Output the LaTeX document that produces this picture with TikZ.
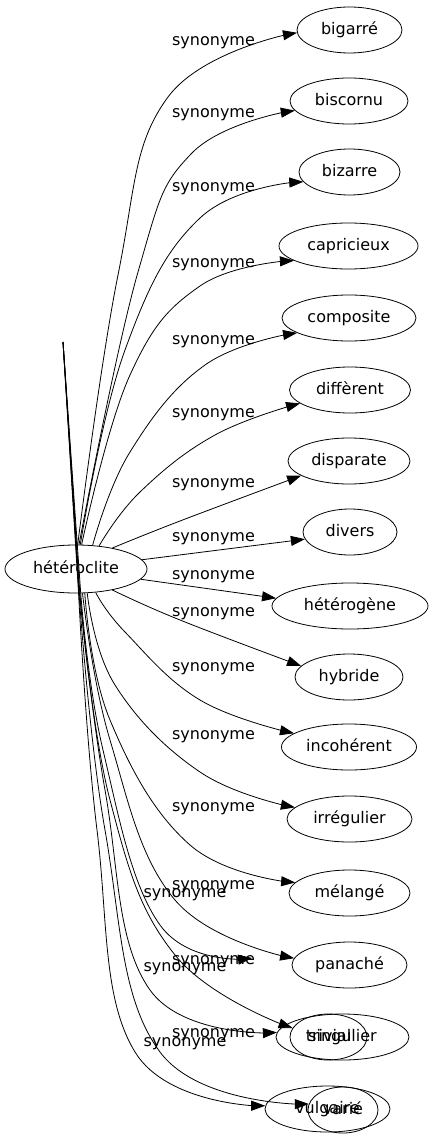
\documentclass[tikz,border=0pt]{standalone}
\usepackage{fontspec}
\setmainfont{DejaVu Sans}
\usetikzlibrary{shapes.geometric,arrows.meta}
\begin{document}
\begin{tikzpicture}[x=1pt,y=-1pt,font=\fontsize{16}{19}\selectfont,
  nd/.style={draw, ellipse, inner sep=0pt, minimum height=46pt, text height=12pt, text depth=3.7pt, line width=0.8pt},
  lbl/.style={anchor=base, inner sep=0pt},
  conn/.style={line width=0.8pt, -{Triangle[length=14pt,width=10pt]}},
  sm/.style={smooth, tension=0.7}]
\useasboundingbox (0,0) rectangle (433,1139);
% nodes
\node[nd, minimum width=142pt, minimum height=48pt] (h) at (76,569) {hétéroclite};
\node[nd, minimum width=105pt] (n1) at (349.5,30) {bigarré};
\node[nd, minimum width=118pt] (n2) at (349,101) {biscornu};
\node[nd, minimum width=101pt] (n3) at (349.5,172) {bizarre};
\node[nd, minimum width=139pt] (n4) at (348.5,246) {capricieux};
\node[nd, minimum width=134pt] (n5) at (349,318) {composite};
\node[nd, minimum width=121pt] (n6) at (350,390) {diffèrent};
\node[nd, minimum width=122pt] (n7) at (349,461) {disparate};
\node[nd, minimum width=94pt] (n8) at (350,532) {divers};
\node[nd, minimum width=156pt] (n9) at (350,606) {hétérogène};
\node[nd, minimum width=108pt] (n10) at (349,677) {hybride};
\node[nd, minimum width=135pt] (n11) at (349,747) {incohérent};
\node[nd, minimum width=125pt] (n12) at (349.5,819) {irrégulier};
\node[nd, minimum width=121pt] (n13) at (349.5,893) {mélangé};
\node[nd, minimum width=115pt] (n14) at (349.5,965) {panaché};
\node[nd, minimum width=133pt] (n15) at (342.5,1037) {singulier};
\node[nd, minimum width=77pt] (n16) at (328.5,1037) {trivial};
\node[nd, minimum width=125pt] (n17) at (327.5,1109) {vulgaire};
\node[nd, minimum width=70pt] (n18) at (343,1110) {varié};
\coordinate (g) at (63,342);
\coordinate (ghost) at (252,958);
% edges to the upper nodes
\draw[conn] plot[sm] coordinates {(h.86) (118,275) (168,97) (n1.183)};
\draw[conn] plot[sm] coordinates {(h.83) (138,272) (192,153) (n2.190)};
\draw[conn] plot[sm] coordinates {(h.80) (125,350) (200,218) (n3.192)};
\draw[conn] plot[sm] coordinates {(h.77) (130,375) (200,286) (n4.195)};
\draw[conn] plot[sm] coordinates {(h.55) (130,452) (205,365) (n5.196)};
\draw[conn] plot[sm] coordinates {(h.45) (140,492) (215,435) (n6.195)};
\draw[conn] plot[sm] coordinates {(h.30) (180,521) (n7.197)};
\draw[conn] (h.8) -- (n8.189);
\draw[conn] (h.351) -- (n9.174);
% edges to the lower nodes
\draw[conn] plot[sm] coordinates {(h.330) (180,620) (n10.167)};
\draw[conn] plot[sm] coordinates {(h.310) (125,632) (200,700) (n11.166)};
\draw[conn] plot[sm] coordinates {(h.295) (115,685) (200,772) (n12.168)};
\draw[conn] plot[sm] coordinates {(h.290) (110,720) (190,845) (n13.169)};
\draw[conn] plot[sm] coordinates {(h.285) (110,740) (175,900) (n14.173)};
% broken edges starting from the free end above
\draw[conn] (g) -- plot[sm] coordinates {(h.281) (103,750) (160,925) (ghost)};
\draw[conn] (g) -- plot[sm] coordinates {(h.278) (105,790) (150,990) (n15.176)};
\draw[conn] (g) -- plot[sm] coordinates {(h.279) (110,800) (175,955) (n16.166)};
\draw[conn] (g) -- plot[sm] coordinates {(h.276) (97,830) (135,1052) (n17.177)};
\draw[conn] (g) -- plot[sm] coordinates {(h.277) (105,830) (160,1052) (n18.170)};
% labels
\foreach \yy/\nm in {41/l1,113/l2,187/l3,263/l4,340/l5,413/l6,483/l7,537/l8,575/l9,612/l10,667/l11,735/l12,807/l13,885/l14,960/l15,1033/l16}
  \node[lbl] (\nm) at (213.5,\yy+4.4) {synonyme};
\foreach \yy/\nm in {893/m1,967/m2,1042/m3}
  \node[lbl] (\nm) at (185,\yy+4.4) {synonyme};
\end{tikzpicture}
\end{document}
